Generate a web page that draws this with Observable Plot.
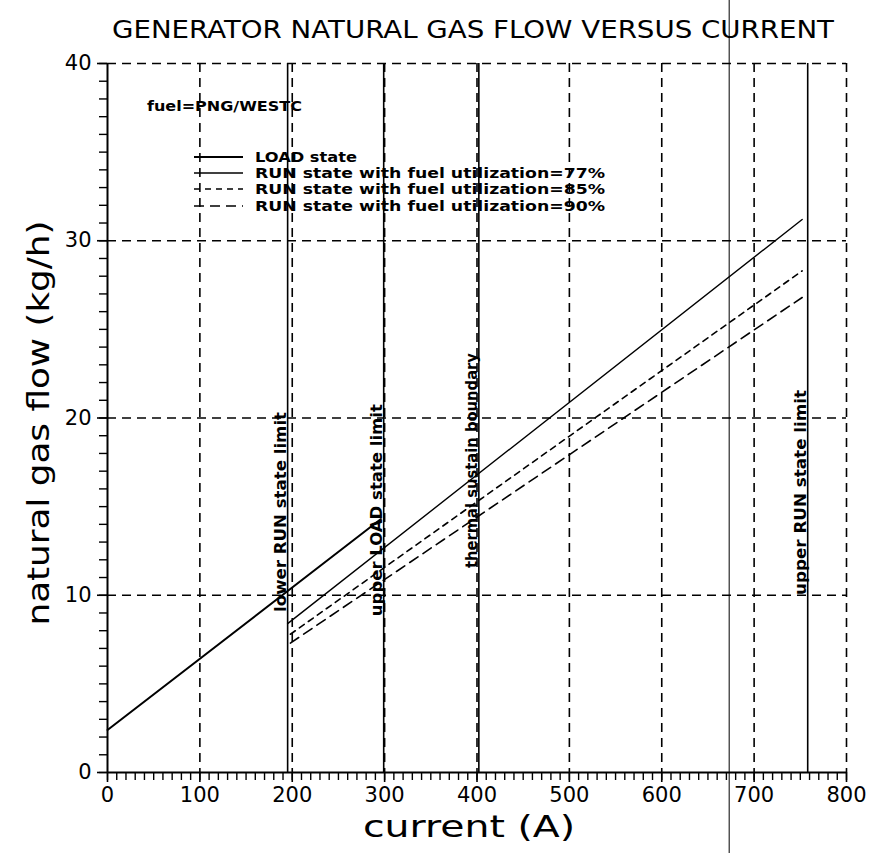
<!DOCTYPE html>
<html><head><meta charset="utf-8">
<script src="https://cdn.jsdelivr.net/npm/d3@7"></script>
<script src="https://cdn.jsdelivr.net/npm/@observablehq/plot@0.6"></script>
<style>body{margin:0;background:#fff} svg{display:block}</style>
</head><body><div id="chart"></div>
<script>
// ---- data ----
const titleText = "GENERATOR NATURAL GAS FLOW VERSUS CURRENT";
const xLabel = "current (A)";
const yLabel = "natural gas flow (kg/h)";
const fuelNote = "fuel=PNG/WESTC";

const loadCurrent = [0, 296];
const loadFlow = [2.4, 14.3];
const run77Current = [195, 752];
const run77Flow = [8.4, 31.2];
const run85Current = [198, 752];
const run85Flow = [7.8, 28.3];
const run90Current = [198, 752];
const run90Flow = [7.3, 26.8];

const seriesNames = ["LOAD state", "RUN state with fuel utilization=77%", "RUN state with fuel utilization=85%", "RUN state with fuel utilization=90%"];

const limitCurrents = [195, 299, 402, 758];
const limitLabels = ["lower RUN state limit", "upper LOAD state limit", "thermal sustain boundary", "upper RUN state limit"];
const limitLabelFlow = [14.7, 14.8, 17.6, 15.8];

const xTicks = [0, 100, 200, 300, 400, 500, 600, 700, 800];
const yTicks = [0, 10, 20, 30, 40];
const xGrid = [100, 200, 300, 400, 500, 600, 700, 800];
const yGrid = [10, 20, 30, 40];
const xMinorStep = 10;
const yMinorStep = 1;
const scanLineX = [673]; // stray vertical line on the scan

// ---- build ----
const mk = (xs, ys) => xs.map((x, i) => ({current: x, flow: ys[i]}));
const loadData = mk(loadCurrent, loadFlow);
const r77 = mk(run77Current, run77Flow);
const r85 = mk(run85Current, run85Flow);
const r90 = mk(run90Current, run90Flow);
const limits = limitCurrents.map((c, i) => ({current: c, label: limitLabels[i], flow: limitLabelFlow[i]}));
const xMinor = d3.range(0, 800 + 1e-9, xMinorStep);
const yMinor = d3.range(0, 40 + 1e-9, yMinorStep);

const FONT = "DejaVu Sans";
const dash = {stroke: "black", strokeWidth: 1.6, strokeDasharray: "9,6"};

const chart = Plot.plot({
  width: 876, height: 853,
  marginLeft: 107, marginRight: 30, marginTop: 63, marginBottom: 81,
  style: {fontFamily: FONT, background: "white", color: "black"},
  x: {domain: [0, 800]},
  y: {domain: [0, 40]},
  marks: [
    Plot.ruleX(xGrid, dash),
    Plot.ruleY(yGrid, dash),
    Plot.ruleX(limits, {x: "current", stroke: "black", strokeWidth: 1.6}),
    Plot.text(limits, {x: "current", y: "flow", text: "label", rotate: -90, lineAnchor: "bottom", dx: -2,
      fontSize: 15, fontWeight: "bold", fontFamily: FONT, fill: "black", className: "limit-label"}),
    Plot.line(loadData, {x: "current", y: "flow", stroke: "black", strokeWidth: 2}),
    Plot.line(r77, {x: "current", y: "flow", stroke: "black", strokeWidth: 1.4}),
    Plot.line(r85, {x: "current", y: "flow", stroke: "black", strokeWidth: 1.6, strokeDasharray: "6,5"}),
    Plot.line(r90, {x: "current", y: "flow", stroke: "black", strokeWidth: 1.6, strokeDasharray: "10,6"}),
    Plot.ruleX([0], {stroke: "black", strokeWidth: 2}),
    Plot.ruleY([0], {stroke: "black", strokeWidth: 2}),
    Plot.axisX({ticks: xMinor, tickSize: 8, tickFormat: () => "", label: null, strokeWidth: 1.4}),
    Plot.axisX({ticks: xTicks, tickSize: 10, tickPadding: 5, fontSize: 21, label: null, strokeWidth: 1.6}),
    Plot.axisY({ticks: yMinor, tickSize: 8, tickFormat: () => "", label: null, strokeWidth: 1.4}),
    Plot.axisY({ticks: yTicks, tickSize: 10, tickPadding: 6, fontSize: 21, label: null, strokeWidth: 1.6}),
    Plot.text([titleText], {frameAnchor: "top", dy: -26, lineAnchor: "bottom", dx: -4, fontSize: 25, fontFamily: FONT, fill: "black", className: "title-text"}),
    Plot.text([xLabel], {frameAnchor: "bottom", dy: 64, lineAnchor: "bottom", dx: -8, fontSize: 30, fontFamily: FONT, fill: "black", className: "xlabel-text"}),
    Plot.text([yLabel], {frameAnchor: "left", dx: -68, dy: 5, rotate: -90, textAnchor: "middle", lineAnchor: "middle", fontSize: 30, fontFamily: FONT, fill: "black", className: "ylabel-text"}),
    Plot.ruleX(scanLineX, {y1: -5, y2: 46, stroke: "black", strokeWidth: 1})
  ]
});

const svg = d3.select(chart);
const fit = (cls, len) => svg.selectAll(`.${cls} text`).attr("textLength", len).attr("lengthAdjust", "spacingAndGlyphs");
fit("title-text", 722);
fit("xlabel-text", 212);
fit("ylabel-text", 405);
const labelLens = [200, 212, 215, 205];
svg.selectAll(".limit-label text").each(function(d, i) {
  d3.select(this).attr("textLength", labelLens[i]).attr("lengthAdjust", "spacingAndGlyphs");
});

// legend
const lg = svg.append("g").attr("font-family", FONT).attr("font-weight", "bold").attr("font-size", 13.5)
  .attr("fill", "black").attr("text-anchor", "start");
lg.append("text").attr("x", 147).attr("y", 106).attr("dy", "0.35em").attr("text-anchor", "start")
  .attr("textLength", 155).attr("lengthAdjust", "spacingAndGlyphs").text(fuelNote);
const rowsY = [157, 173, 189, 206];
const styles = [{w: 2.2, d: null}, {w: 1.4, d: null}, {w: 1.6, d: "6,5"}, {w: 1.6, d: "10,6"}];
const textLens = [102, 350, 350, 350];
seriesNames.forEach((name, i) => {
  lg.append("line").attr("x1", 194).attr("x2", 243).attr("y1", rowsY[i]).attr("y2", rowsY[i])
    .attr("stroke", "black").attr("stroke-width", styles[i].w).attr("stroke-dasharray", styles[i].d);
  lg.append("text").attr("x", 255).attr("y", rowsY[i]).attr("dy", "0.35em").attr("text-anchor", "start")
    .attr("textLength", textLens[i]).attr("lengthAdjust", "spacingAndGlyphs").text(name);
});

document.getElementById("chart").appendChild(chart);
</script>
</body></html>
